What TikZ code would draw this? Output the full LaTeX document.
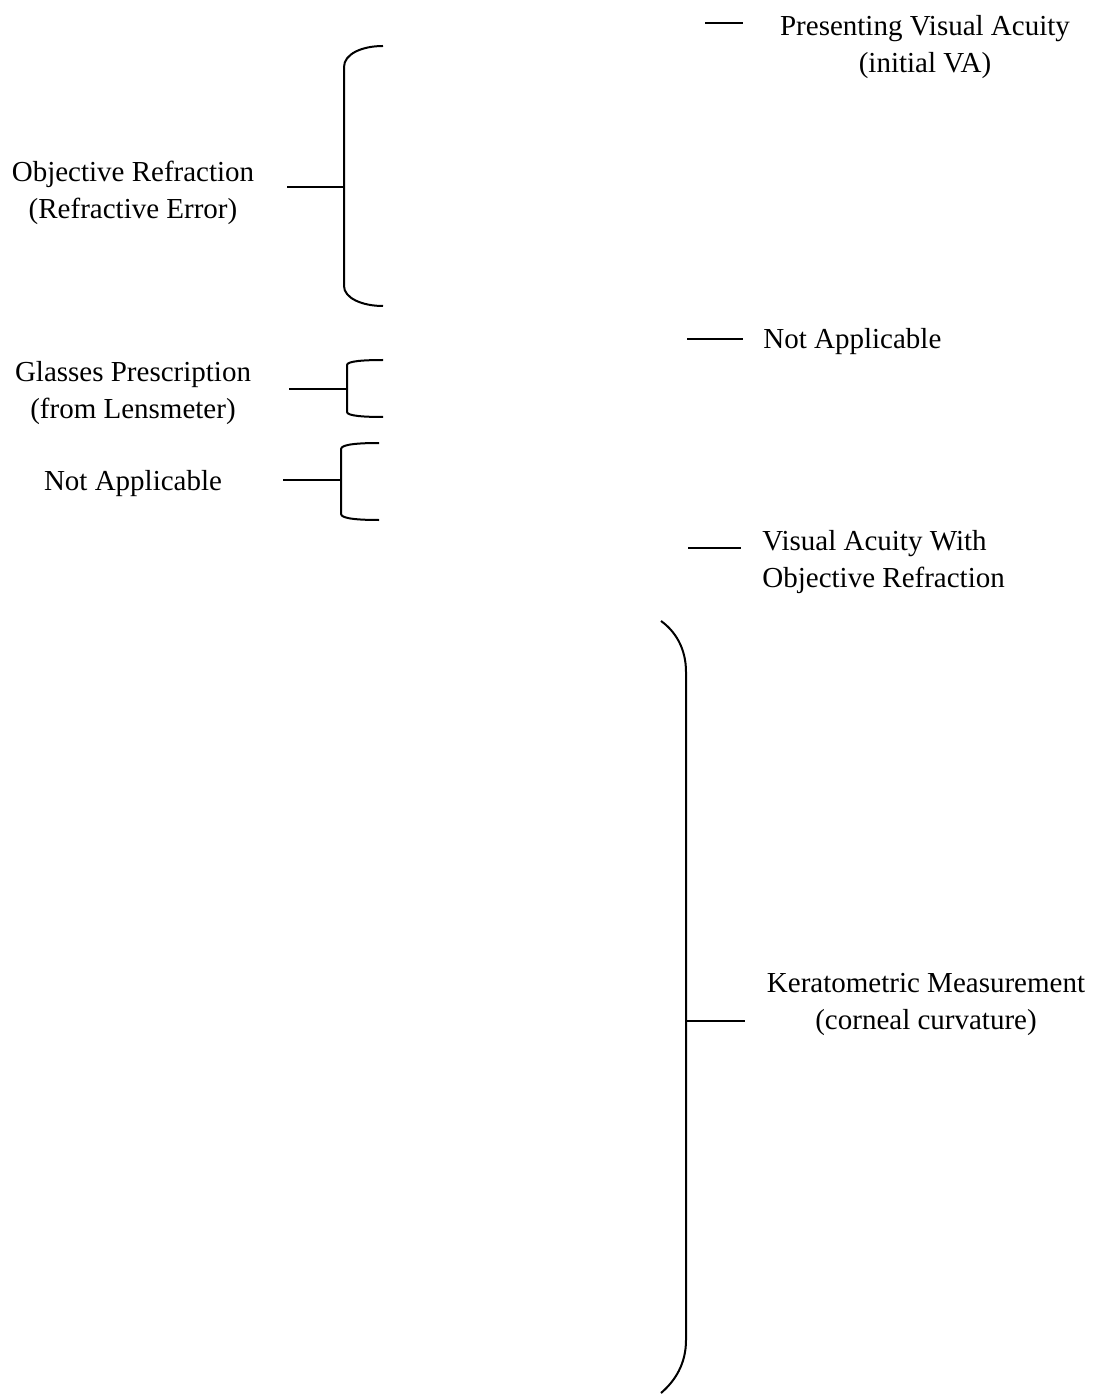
\documentclass[tikz,border=0pt]{standalone}
\usepackage{fontspec}
\setmainfont{Liberation Serif}
\begin{document}
\begin{tikzpicture}[x=0.5pt,y=-0.5pt,
  lbl/.style={inner sep=0pt,align=center,font=\fontsize{14.5}{18.5}\selectfont},
  lbll/.style={inner sep=0pt,align=left,anchor=west,font=\fontsize{14.5}{18.5}\selectfont},
  ln/.style={line width=1pt,line cap=butt}]
\useasboundingbox (0,0) rectangle (1094,1395);
% left labels
\node[lbl] (objr) at (133,193) {Objective Refraction\\(Refractive Error)};
\node[lbl] (glas) at (133,393) {Glasses Prescription\\(from Lensmeter)};
\node[lbl] (nal) at (133,484) {Not Applicable};
% right labels
\node[lbl] (pva) at (925,47) {Presenting Visual Acuity\\(initial VA)};
\node[lbll] (nar) at (763,342) {Not Applicable};
\node[lbll] (vaor) at (762,562) {Visual Acuity With\\Objective Refraction};
\node[lbl] (kera) at (926,1004) {Keratometric Measurement\\(corneal curvature)};
% bracket coordinates
\coordinate (b1) at (344,187);
\coordinate (s1) at (287,187);
\coordinate (b2) at (347,389);
\coordinate (s2) at (289,389);
\coordinate (b3) at (341,480);
\coordinate (s3) at (283,480);
\coordinate (b4) at (686,1021);
\coordinate (s4) at (745,1021);
\coordinate (p1) at (705,23);
\coordinate (p2) at (743,23);
\coordinate (n1) at (687,339);
\coordinate (n2) at (743,339);
\coordinate (v1) at (688,548);
\coordinate (v2) at (741,548);
% brackets
\draw[ln] (383,46) .. controls (362,46) and (344,54) .. (344,67) -- (344,286)
  .. controls (344,298) and (362,306) .. (383,306);
\draw[ln] (383,360) .. controls (365,360) and (347,361) .. (347,365) -- (347,412)
  .. controls (347,416) and (365,417) .. (383,417);
\draw[ln] (379,443) .. controls (361,443) and (341,444) .. (341,449) -- (341,514)
  .. controls (341,519) and (361,520) .. (379,520);
\draw[ln] (661,621) .. controls (675,631) and (686,648) .. (686,672) -- (686,1340)
  .. controls (686,1364) and (675,1381) .. (661,1393);
% stems
\draw[ln] (s1) -- (b1);
\draw[ln] (s2) -- (b2);
\draw[ln] (s3) -- (b3);
\draw[ln] (b4) -- (s4);
\draw[ln] (p1) -- (p2);
\draw[ln] (n1) -- (n2);
\draw[ln] (v1) -- (v2);
\end{tikzpicture}
\end{document}
